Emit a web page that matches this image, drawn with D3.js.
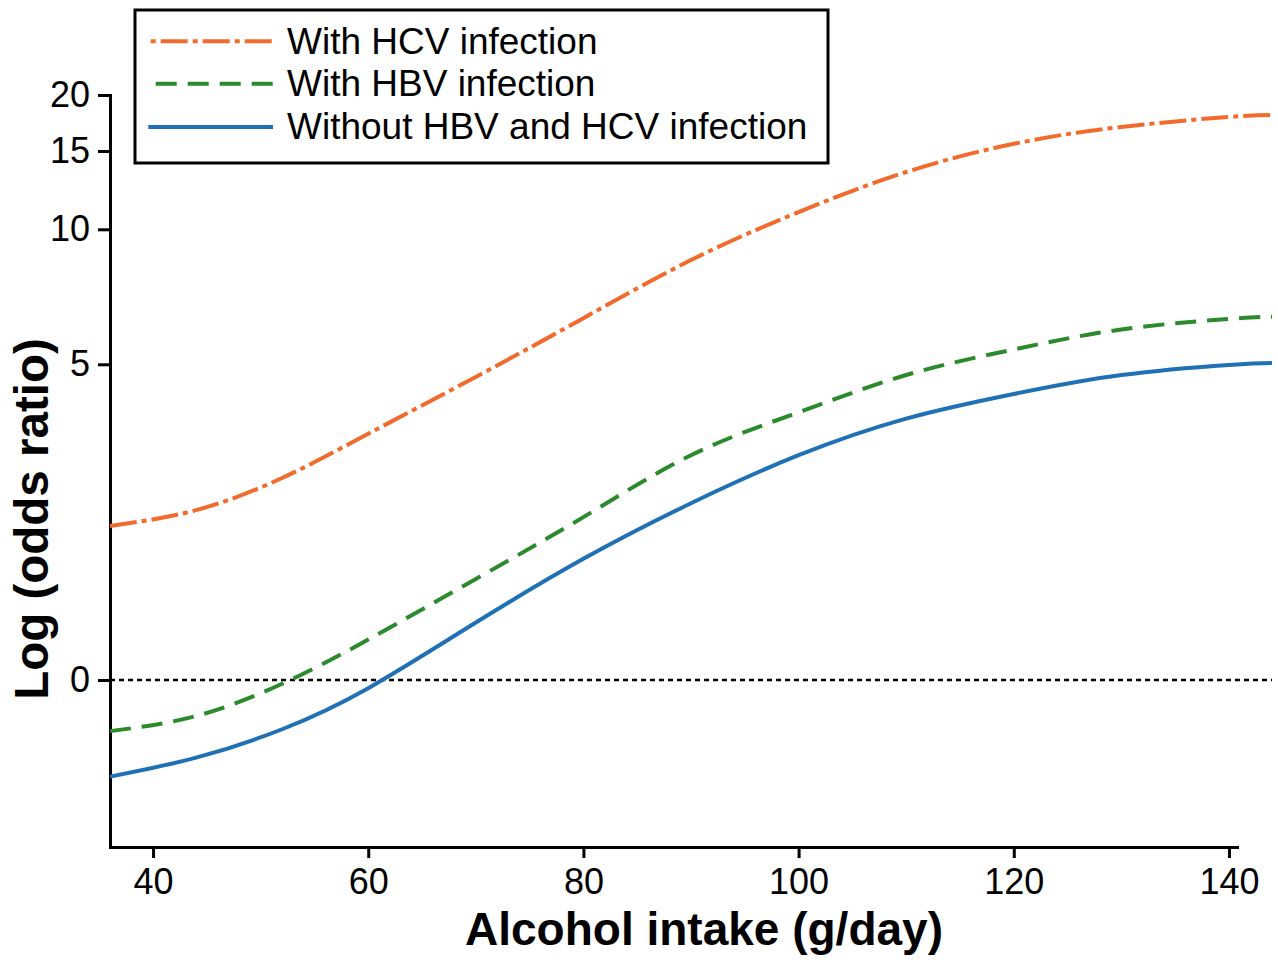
<!DOCTYPE html>
<html>
<head>
<meta charset="utf-8">
<script src="https://cdn.jsdelivr.net/npm/d3@7"></script>
<style>
  body { margin: 0; background: #fff; }
  svg { display: block; }
  text { font-family: "Liberation Sans", Arial, Helvetica, sans-serif; fill: #000; }
</style>
</head>
<body>
<div id="chart"></div>
<script>
// alcohol intake (g/day) where the curves were read
let intake = [36, 44, 52, 60, 70, 80, 90, 100, 110, 120, 130, 140, 144];

// log (odds ratio)
let hcvValues  = [2.44, 2.69, 3.20, 3.90, 4.80, 6.71, 8.86, 11.10, 13.66, 15.64, 17.15, 18.04, 18.21];
let hbvValues  = [-0.81, -0.57, -0.06, 0.64, 1.60, 2.58, 3.56, 4.24, 4.83, 5.55, 6.29, 6.68, 6.76];
let noneValues = [-1.53, -1.23, -0.78, -0.13, 0.91, 1.92, 2.80, 3.56, 4.14, 4.53, 4.83, 4.99, 5.05];

let seriesNames = ["With HCV infection", "With HBV infection", "Without HBV and HCV infection"];
let seriesColors = ["#f26a2c", "#2b8a2b", "#1f70b4"];
let seriesDash = ["27,5,5,5", "21,11", null];

let xTicks = [40, 60, 80, 100, 120, 140];
let yTicks = [0, 5, 10, 15, 20];

const width = 1278, height = 964;

const svg = d3.select("#chart").append("svg")
  .attr("width", width)
  .attr("height", height);

// x scale, curves run a bit past the end of the axis line
const x = d3.scaleLinear().domain([36, 144]).range([110, 1272]);
const xAxisScale = x.copy().domain([36, 140.75]).range([x(36), x(140.75)]);

// the y axis of the figure is not evenly spaced: piecewise scale through its ticks
const y = d3.scaleLinear()
  .domain([-2.645, 0, 5, 10, 15, 20])
  .range([847, 680, 364.3, 229.3, 151, 95]);

// axes
const xAxis = svg.append("g")
  .attr("transform", `translate(0,${y(-2.645)})`)
  .call(d3.axisBottom(xAxisScale).tickValues(xTicks).tickSize(11).tickSizeOuter(0).tickPadding(10));

const yAxis = svg.append("g")
  .attr("transform", `translate(${x(36)},0)`)
  .call(d3.axisLeft(y).tickValues(yTicks).tickSize(12).tickSizeOuter(0).tickPadding(8));

[xAxis, yAxis].forEach(g => {
  g.select(".domain").attr("stroke", "#000").attr("stroke-width", 3).attr("stroke-linecap", "square");
  g.selectAll(".tick line").attr("stroke", "#000").attr("stroke-width", 3);
  g.selectAll(".tick text").style("font-size", "36px").attr("fill", "#000");
});

// dotted reference line at 0
svg.append("line")
  .attr("x1", x(36)).attr("x2", x(144))
  .attr("y1", y(0)).attr("y2", y(0))
  .attr("stroke", "#000")
  .attr("stroke-width", 2.5)
  .attr("stroke-dasharray", "5,4");

// curves
let series = [hcvValues, hbvValues, noneValues].map((vals, i) => ({
  name: seriesNames[i],
  color: seriesColors[i],
  dash: seriesDash[i],
  points: intake.map((d, j) => ({x: d, y: vals[j]}))
}));

const line = d3.line()
  .x(d => x(d.x))
  .y(d => y(d.y))
  .curve(d3.curveNatural);

svg.append("g").selectAll("path")
  .data(series.slice().reverse())
  .join("path")
    .attr("d", d => line(d.points))
    .attr("fill", "none")
    .attr("stroke", d => d.color)
    .attr("stroke-width", 4)
    .attr("stroke-dasharray", d => d.dash);

// axis titles
svg.append("text")
  .attr("x", 704).attr("y", 945)
  .attr("text-anchor", "middle")
  .style("font-size", "46px")
  .style("font-weight", "bold")
  .text("Alcohol intake (g/day)");

svg.append("text")
  .attr("transform", "translate(48,519) rotate(-90)")
  .attr("text-anchor", "middle")
  .style("font-size", "47.5px")
  .style("font-weight", "bold")
  .text("Log (odds ratio)");

// legend
const legend = svg.append("g");
legend.append("rect")
  .attr("x", 135).attr("y", 10)
  .attr("width", 693).attr("height", 153)
  .attr("fill", "#fff")
  .attr("stroke", "#000")
  .attr("stroke-width", 3);

let legendRowY = [41.3, 83.7, 127];
let legendStart = [150.7, 155.7, 148.3];
let legendOffset = [32, 0, 0];

const rows = legend.selectAll("g.row")
  .data(series)
  .join("g")
    .attr("class", "row");

rows.append("line")
  .attr("x1", (d, i) => legendStart[i]).attr("x2", 273)
  .attr("y1", (d, i) => legendRowY[i]).attr("y2", (d, i) => legendRowY[i])
  .attr("stroke", d => d.color)
  .attr("stroke-width", 4)
  .attr("stroke-dasharray", d => d.dash)
  .attr("stroke-dashoffset", (d, i) => legendOffset[i]);

rows.append("text")
  .attr("x", 287)
  .attr("y", (d, i) => legendRowY[i] + 12.3)
  .style("font-size", "37px")
  .text(d => d.name);
</script>
</body>
</html>
